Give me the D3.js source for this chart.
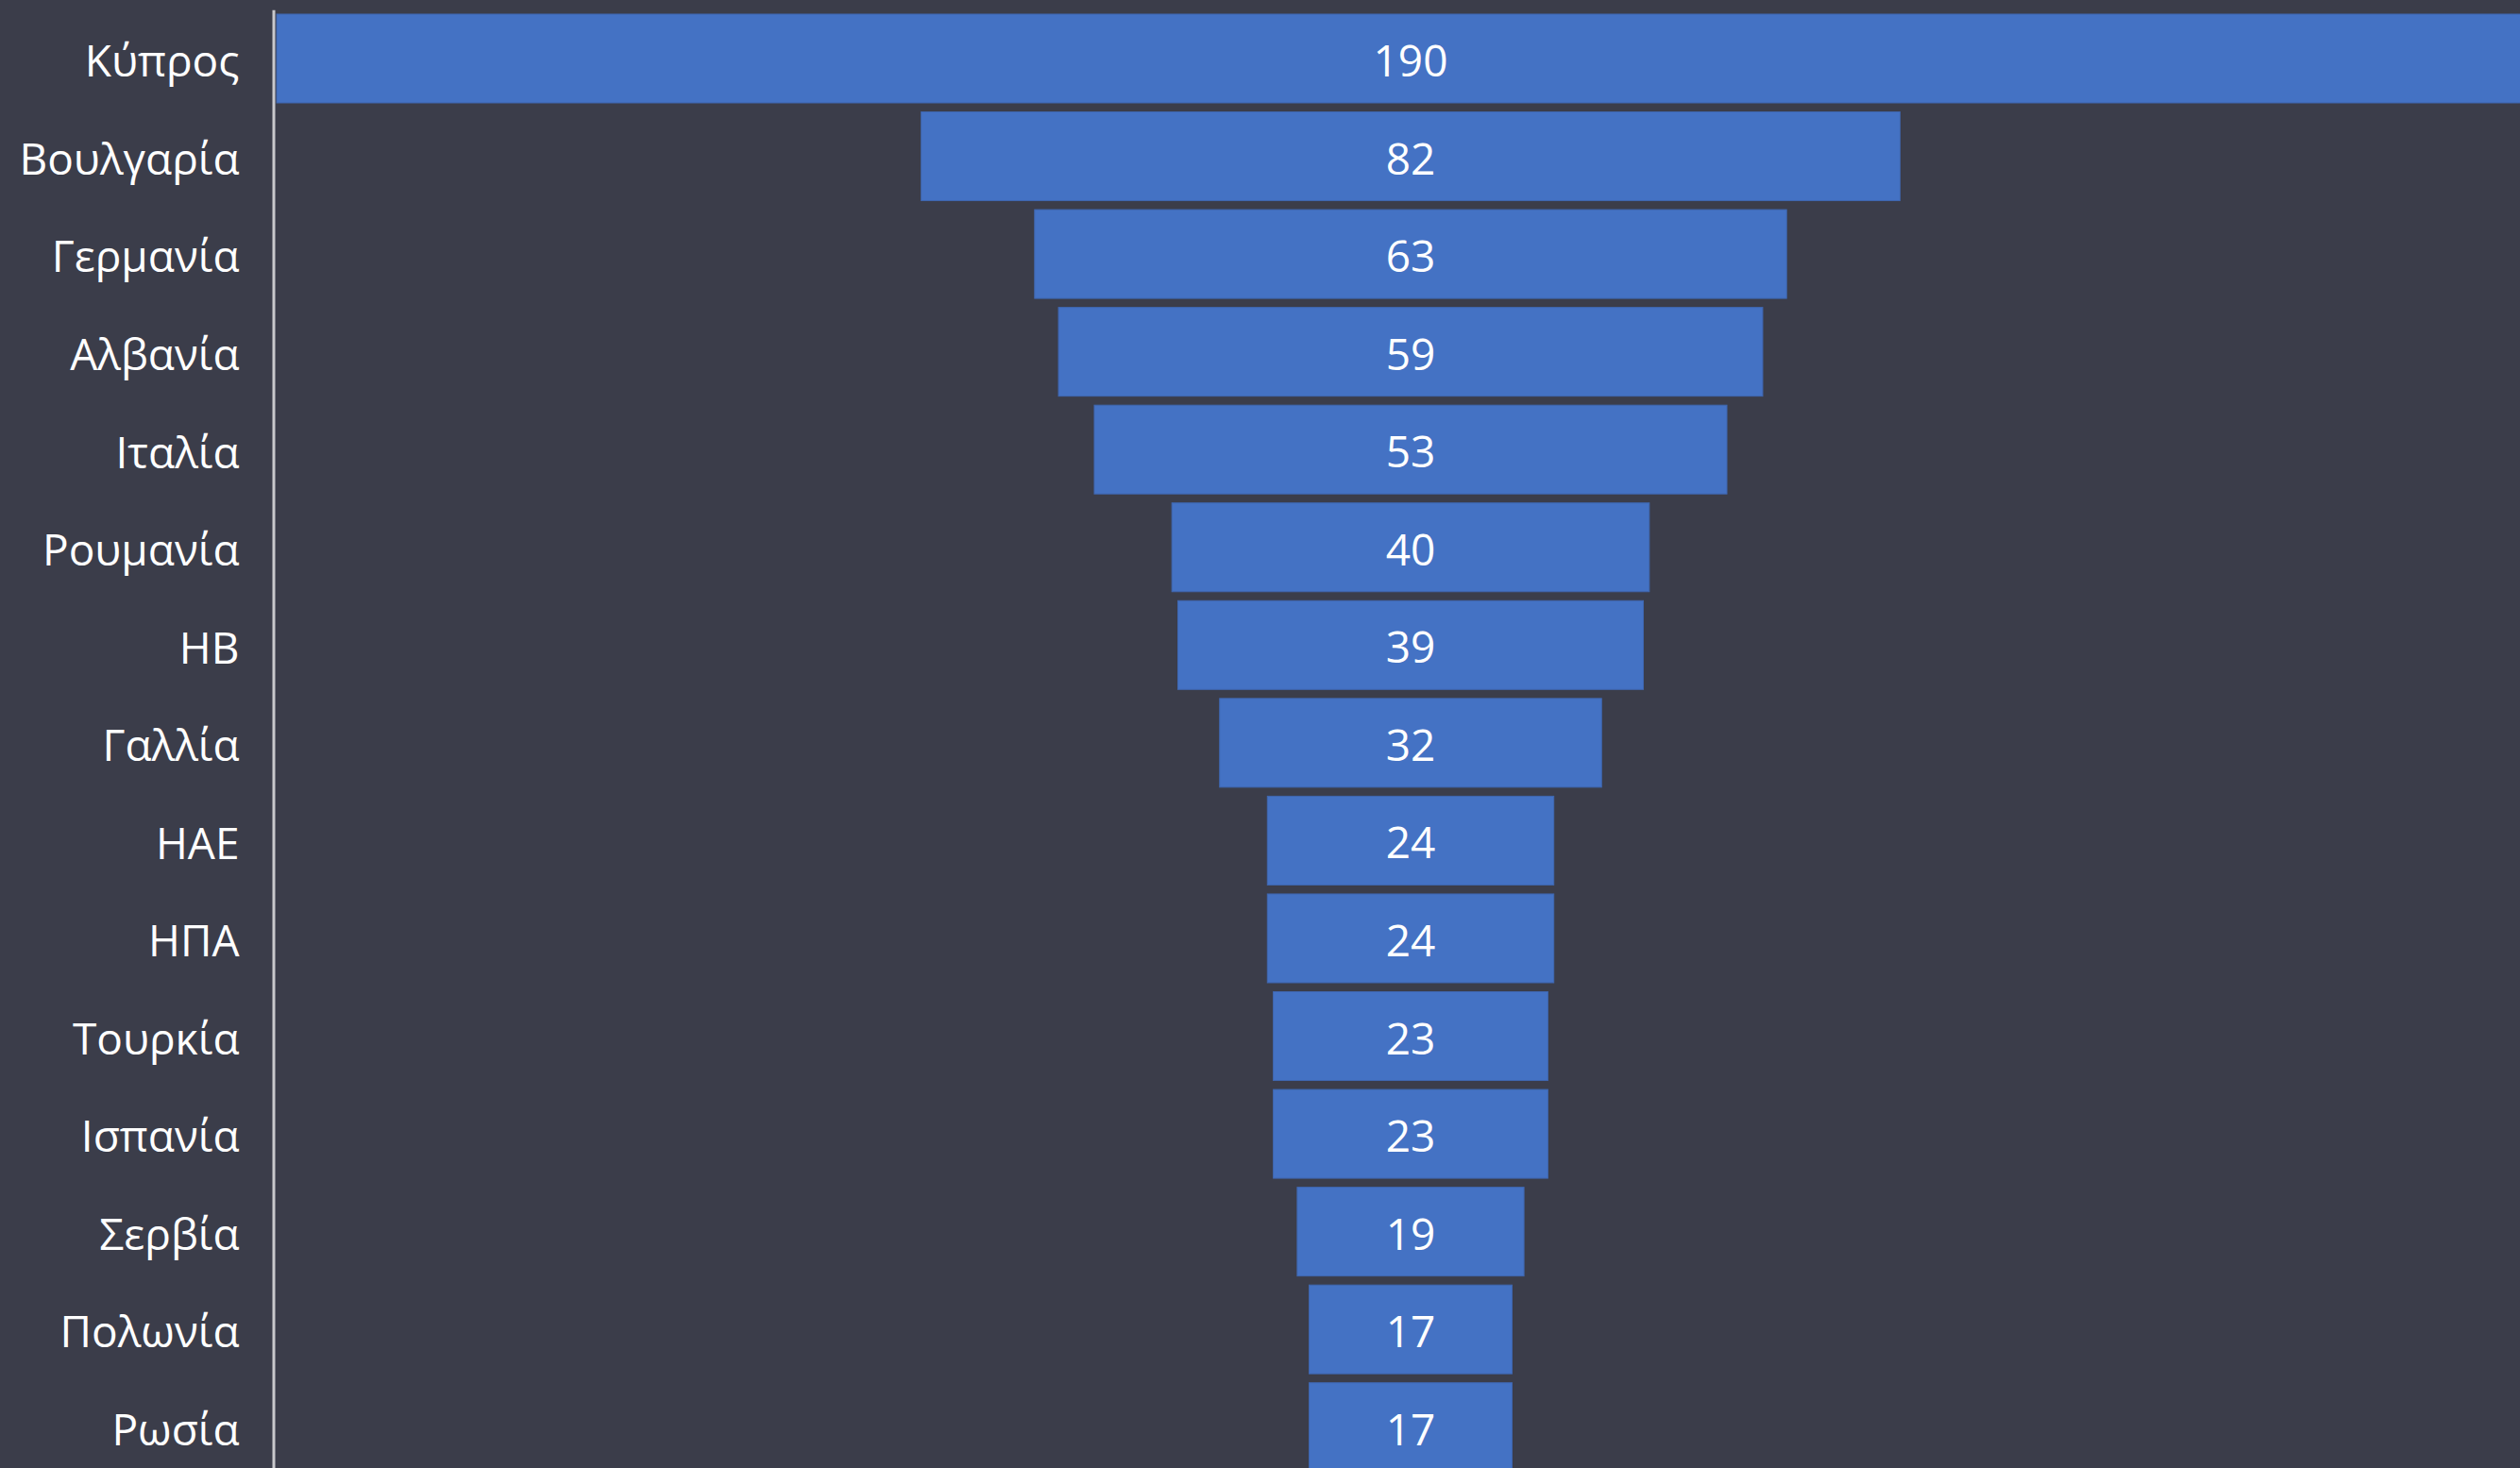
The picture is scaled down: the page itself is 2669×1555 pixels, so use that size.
<!DOCTYPE html>
<html>
<head>
<meta charset="utf-8">
<script src="https://cdn.jsdelivr.net/npm/d3@7"></script>
<style>
  html, body { margin: 0; padding: 0; background: #3b3d4a; overflow: hidden; }
  svg { display: block; }
</style>
</head>
<body>
<svg id="chart" width="2669" height="1555"></svg>
<script>
const categories = ["Κύπρος", "Βουλγαρία", "Γερμανία", "Αλβανία", "Ιταλία", "Ρουμανία", "ΗΒ", "Γαλλία", "ΗΑΕ", "ΗΠΑ", "Τουρκία", "Ισπανία", "Σερβία", "Πολωνία", "Ρωσία"];
const values = [190, 82, 63, 59, 53, 40, 39, 32, 24, 24, 23, 23, 19, 17, 17];

const W = 2669, H = 1555;
const FONT = "'Open Sans', 'Noto Sans', 'DejaVu Sans', sans-serif";
const svg = d3.select("#chart");

svg.append("rect").attr("width", W).attr("height", H).attr("fill", "#3b3d4a");

const maxV = d3.max(values);
const x = d3.scaleLinear().domain([-maxV / 2, maxV / 2]).range([293, 2695]);
const y = d3.scaleBand().domain(categories).range([10.2, 1563.5]).paddingInner(0.092).paddingOuter(0.046);

const data = categories.map((c, i) => ({ c, v: values[i] }));

svg.append("g").selectAll("rect").data(data).join("rect")
  .attr("x", d => x(-d.v / 2))
  .attr("y", d => y(d.c))
  .attr("width", d => x(d.v / 2) - x(-d.v / 2))
  .attr("height", y.bandwidth())
  .attr("fill", "#4472c4")
  .attr("stroke", "#3f67b0")
  .attr("stroke-width", 1);

svg.append("g").selectAll("text").data(data).join("text")
  .attr("x", x(0))
  .attr("y", d => y(d.c) + y.bandwidth() / 2 + 1)
  .attr("text-anchor", "middle")
  .attr("dominant-baseline", "central")
  .attr("fill", "#ffffff")
  .style("font-family", FONT)
  .style("font-size", "46px")
  .text(d => d.v);

const axis = svg.append("g")
  .attr("transform", "translate(289.5,0)")
  .call(d3.axisLeft(y).tickSize(0).tickPadding(36));
axis.select(".domain").attr("stroke", "#c8c8cc").attr("stroke-width", 3);
axis.selectAll("text")
  .attr("fill", "#ffffff")
  .attr("dy", "0.42em")
  .style("font-family", FONT)
  .style("font-size", "46px");
</script>
</body>
</html>
